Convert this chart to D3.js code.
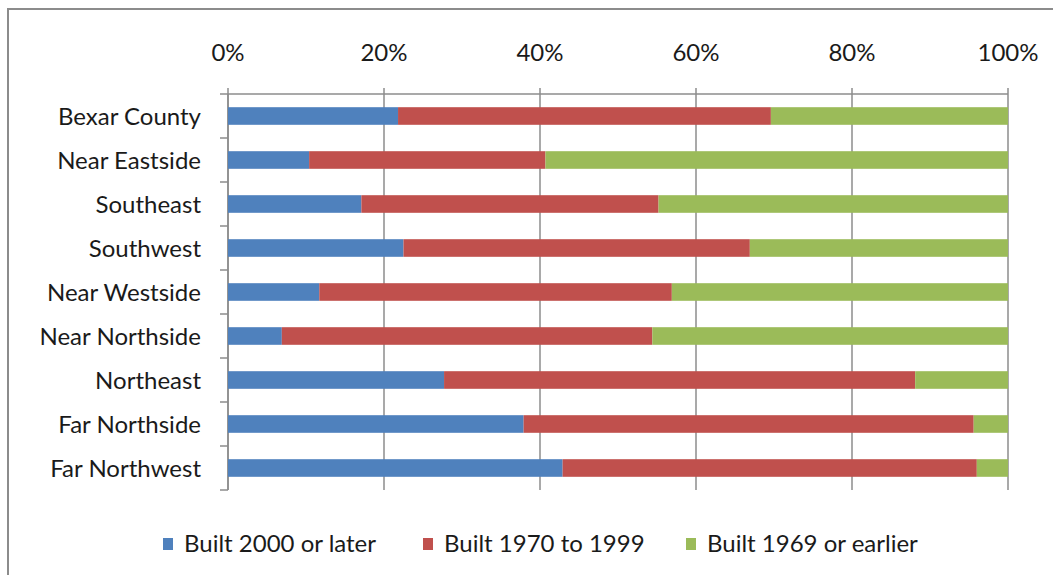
<!DOCTYPE html>
<html><head><meta charset="utf-8">
<script src="https://cdn.jsdelivr.net/npm/d3@7"></script>
<style>
html,body{margin:0;padding:0;background:#fff;}
svg{display:block;}
text{font-family:Lato,"Open Sans",sans-serif;fill:#1a1a1a;}
</style></head>
<body>
<svg id="chart" width="1053" height="575"></svg>
<script>
const categories = ["Bexar County","Near Eastside","Southeast","Southwest","Near Westside","Near Northside","Northeast","Far Northside","Far Northwest"];
const built2000Later = [21.8,10.4,17.1,22.5,11.7,6.9,27.7,37.9,42.9];
const built1970to1999 = [47.8,30.3,38.1,44.4,45.2,47.5,60.4,57.7,53.1];
const built1969Earlier = [30.4,59.3,44.8,33.1,43.1,45.6,11.9,4.4,4.0];
const seriesNames = ["Built 2000 or later","Built 1970 to 1999","Built 1969 or earlier"];
const seriesColors = ["#4F81BD","#C0504D","#9BBB59"];
const tickValues = [0,0.2,0.4,0.6,0.8,1.0];

const svg = d3.select("#chart");
const FS = "24px";

// outer frame
svg.append("rect").attr("x",8).attr("y",9).attr("width",1060).attr("height",600)
  .attr("fill","none").attr("stroke","#8c8c8c").attr("stroke-width",2);

const x = d3.scaleLinear().domain([0,1]).range([228,1008]);
const y = d3.scaleBand().domain(categories).range([94,490]).paddingInner(0.6).paddingOuter(0.3);

// gridlines
svg.append("g").selectAll("line").data(tickValues).join("line")
  .attr("x1",d=>x(d)).attr("x2",d=>x(d)).attr("y1",88).attr("y2",490)
  .attr("stroke","#8c8c8c").attr("stroke-width",1.5);

// top axis line
svg.append("line").attr("x1",228).attr("x2",1008).attr("y1",94).attr("y2",94)
  .attr("stroke","#8c8c8c").attr("stroke-width",1.5);
// left axis
svg.append("line").attr("x1",228).attr("x2",228).attr("y1",94).attr("y2",490)
  .attr("stroke","#8c8c8c").attr("stroke-width",1.5);
const bandEdges = d3.range(categories.length+1).map(i=>94+i*(396/categories.length));
svg.append("g").selectAll("line").data(bandEdges).join("line")
  .attr("x1",220).attr("x2",228).attr("y1",d=>d).attr("y2",d=>d)
  .attr("stroke","#8c8c8c").attr("stroke-width",1.5);

// tick labels
svg.append("g").selectAll("text").data(tickValues).join("text")
  .attr("x",d=>x(d)).attr("y",61).attr("text-anchor","middle")
  .style("font-size",FS).text(d3.format(".0%"));

// category labels
svg.append("g").selectAll("text").data(categories).join("text")
  .attr("x",201).attr("y",d=>y(d)+y.bandwidth()/2+8.5).attr("text-anchor","end")
  .style("font-size",FS).text(d=>d);

// stacked data
const rows = categories.map((c,i)=>({cat:c, s0:built2000Later[i]/100, s1:built1970to1999[i]/100, s2:built1969Earlier[i]/100}));
const stack = d3.stack().keys(["s0","s1","s2"]);
const stacked = stack(rows);
svg.append("g").selectAll("g").data(stacked).join("g")
  .attr("fill",(d,i)=>seriesColors[i])
  .selectAll("rect").data(d=>d).join("rect")
  .attr("x",d=>x(d[0])).attr("width",d=>x(Math.min(d[1],1))-x(d[0]))
  .attr("y",d=>y(d.data.cat)).attr("height",y.bandwidth());

// legend
const legendX = [163,423,686];
const lg = svg.append("g").selectAll("g").data(seriesNames).join("g")
  .attr("transform",(d,i)=>`translate(${legendX[i]},538)`);
lg.append("rect").attr("width",10).attr("height",12).attr("fill",(d,i)=>seriesColors[i]);
lg.append("text").attr("x",21).attr("y",13.5).style("font-size",FS).text(d=>d);
</script>
</body></html>
